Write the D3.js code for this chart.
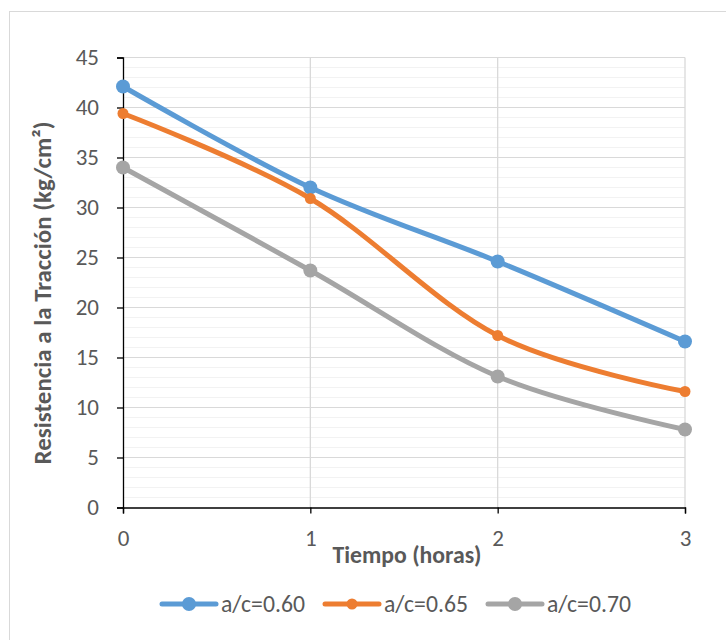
<!DOCTYPE html>
<html><head><meta charset="utf-8">
<script src="https://cdn.jsdelivr.net/npm/d3@7"></script>
<style>body{margin:0;background:#fff}svg text{font-family:Carlito,Calibri,Lato,sans-serif}</style>
</head><body>
<svg id="c" width="726" height="640"></svg>
<script>
const xValues = [0, 1, 2, 3];
const seriesNames = ["a/c=0.60", "a/c=0.65", "a/c=0.70"];
const s060 = [42.1, 32.0, 24.6, 16.6];
const s065 = [39.4, 30.9, 17.2, 11.6];
const s070 = [34.0, 23.7, 13.1, 7.8];
const yTicks = [0, 5, 10, 15, 20, 25, 30, 35, 40, 45];
const colors = ["#5b9bd5", "#ed7d31", "#a5a5a5"];
const radii = [7, 5.5, 7];
const series = [s060, s065, s070];

const svg = d3.select("#c");
svg.append("rect").attr("x",9.5).attr("y",11.5).attr("width",800).attr("height",700)
  .attr("fill","#fff").attr("stroke","#d9d9d9");

const x = d3.scaleLinear().domain([0,3]).range([123,685]);
const y = d3.scaleLinear().domain([0,45]).range([507.5,57.5]);

function fit(sel, target){
  const n = sel.node(); const fs = +sel.attr("font-size");
  const w = n.getComputedTextLength();
  if (w>0) sel.attr("font-size", fs*target/w);
  return sel;
}

const minor = d3.range(1,45).filter(v=>v%5!==0);
svg.append("g").selectAll("line").data(minor).join("line")
  .attr("x1",x(0)).attr("x2",x(3)).attr("y1",d=>y(d)).attr("y2",d=>y(d))
  .attr("stroke","#f2f2f2").attr("stroke-width",1);
svg.append("g").selectAll("line").data(yTicks.filter(v=>v>0)).join("line")
  .attr("x1",x(0)).attr("x2",x(3)).attr("y1",d=>y(d)).attr("y2",d=>y(d))
  .attr("stroke","#d9d9d9").attr("stroke-width",1);
svg.append("g").selectAll("line").data(xValues.filter(v=>v>0)).join("line")
  .attr("x1",d=>x(d)).attr("x2",d=>x(d)).attr("y1",y(0)).attr("y2",y(45))
  .attr("stroke","#d9d9d9").attr("stroke-width",1.3);

const legX = [162, 325, 488];
const lg = svg.append("g");
let legendFs = 17;
seriesNames.forEach((n,k)=>{
  const g = lg.append("g").attr("transform",`translate(${legX[k]},604)`);
  g.append("line").attr("x1",0).attr("x2",54).attr("stroke",colors[k]).attr("stroke-width",5).attr("stroke-linecap","round");
  g.append("circle").attr("cx",27).attr("r",radii[k]).attr("fill",colors[k]);
  const t = g.append("text").attr("x",59).attr("dy","0.35em").attr("font-size",17).attr("fill","#595959").text(n);
  if (k===0){ fit(t,84); legendFs = +t.attr("font-size"); } else t.attr("font-size",legendFs);
});

const yAxis = svg.append("g").attr("transform",`translate(${x(0)},0)`)
  .call(d3.axisLeft(y).tickValues(yTicks).tickSize(6).tickPadding(18));
yAxis.select(".domain").attr("stroke","#000").attr("stroke-width",1.3);
yAxis.selectAll(".tick line").attr("stroke","#000").attr("stroke-width",1.3);
yAxis.selectAll(".tick text").attr("fill","#595959").attr("font-size",legendFs*0.97);

const xAxis = svg.append("g").attr("transform",`translate(0,${y(0)})`)
  .call(d3.axisBottom(x).tickValues(xValues).tickFormat(d3.format("d")).tickSize(6).tickPadding(14));
xAxis.select(".domain").attr("stroke","#000").attr("stroke-width",1.3);
xAxis.selectAll(".tick line").attr("stroke","#000").attr("stroke-width",1.3);
xAxis.selectAll(".tick text").attr("fill","#595959").attr("font-size",legendFs*0.97).attr("y",30).attr("dy","0.35em");

fit(svg.append("text").attr("x",407).attr("y",563).attr("text-anchor","middle")
  .attr("font-size",17).attr("font-weight","bold").attr("fill","#595959").text("Tiempo (horas)"),149);
fit(svg.append("text").attr("transform","translate(51,293) rotate(-90)").attr("text-anchor","middle")
  .attr("font-size",17).attr("font-weight","bold").attr("fill","#595959").text("Resistencia a la Tracción (kg/cm²)"),343);

const line = d3.line().x((d,i)=>x(xValues[i])).y(d=>y(d)).curve(d3.curveCatmullRom.alpha(0));
series.forEach((s,k)=>{
  svg.append("path").attr("d",line(s)).attr("fill","none").attr("stroke",colors[k])
    .attr("stroke-width",5).attr("stroke-linecap","round");
  svg.append("g").selectAll("circle").data(s).join("circle")
    .attr("cx",(d,i)=>x(xValues[i])).attr("cy",d=>y(d)).attr("r",radii[k]).attr("fill",colors[k]);
});
</script>
</body></html>
